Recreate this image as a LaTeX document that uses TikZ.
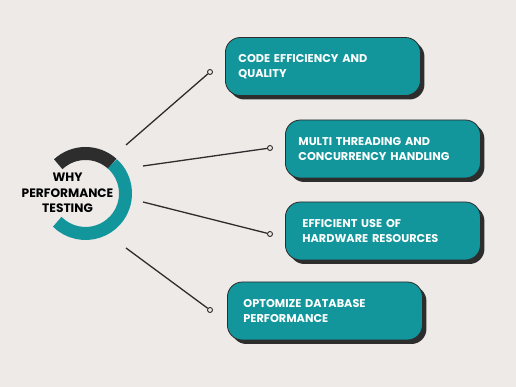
\documentclass[tikz,border=0pt]{standalone}
\usepackage{fontspec}
\setmainfont{Poppins}
\usetikzlibrary{positioning,shadows}
\definecolor{bgc}{HTML}{EEEAE8}
\definecolor{tealc}{HTML}{12969B}
\definecolor{darkc}{HTML}{2D2D2D}

\begin{document}
\begin{tikzpicture}[x=1pt,y=1pt, every node/.style={font=\bfseries\fontsize{11.3}{15}\selectfont},
 card/.style={fill=tealc,draw=darkc,line width=0.8pt,rounded corners=15pt,text=white,align=left,anchor=west,
   minimum height=58pt,minimum width=195pt,text width=169pt,inner xsep=13pt,
   drop shadow={shadow xshift=4pt,shadow yshift=-4pt,fill=darkc,opacity=1}},
 dot/.style={circle,draw=darkc,fill=bgc,line width=0.9pt,inner sep=0pt,minimum size=5pt},
 wire/.style={darkc,line width=1.3pt}]
\fill[bgc] (0,0) rectangle (516,387);
\useasboundingbox (0,0) rectangle (516,387);
% ring
\coordinate (hub) at (85.5,193.5);
\draw[darkc,line width=13pt] (hub) ++(133:40) arc[start angle=133,end angle=48,radius=40];
\draw[tealc,line width=13pt] (hub) ++(48:40) arc[start angle=48,end angle=-135,radius=40];
\node[align=center,font=\bfseries\fontsize{12.2}{15.5}\selectfont] (why) at (67.5,194) {WHY\\PERFORMANCE\\TESTING};
% cards
\node[card] (code) at (225,320.5) {CODE EFFICIENCY AND\\QUALITY};
\node[card] (multi) at (285,238) {MULTI THREADING AND\\CONCURRENCY HANDLING};
\node[card,inner xsep=17pt,text width=161pt] (hw) at (285,156) {EFFICIENT USE OF\\HARDWARE RESOURCES};
\node[card,inner xsep=16pt,text width=163pt] (db) at (227,76) {OPTOMIZE DATABASE\\PERFORMANCE};
% connectors
\coordinate (s1) at (126,242);\coordinate (s2) at (143,221);
\coordinate (s3) at (143,185);\coordinate (s4) at (126,139);
\node[dot] (d1) at (210,315) {};\node[dot] (d2) at (270,239) {};
\node[dot] (d3) at (270,153) {};\node[dot] (d4) at (210,77) {};
\draw[wire] (s1) -- (d1);\draw[wire] (s2) -- (d2);
\draw[wire] (s3) -- (d3);\draw[wire] (s4) -- (d4);
\end{tikzpicture}
\end{document}
